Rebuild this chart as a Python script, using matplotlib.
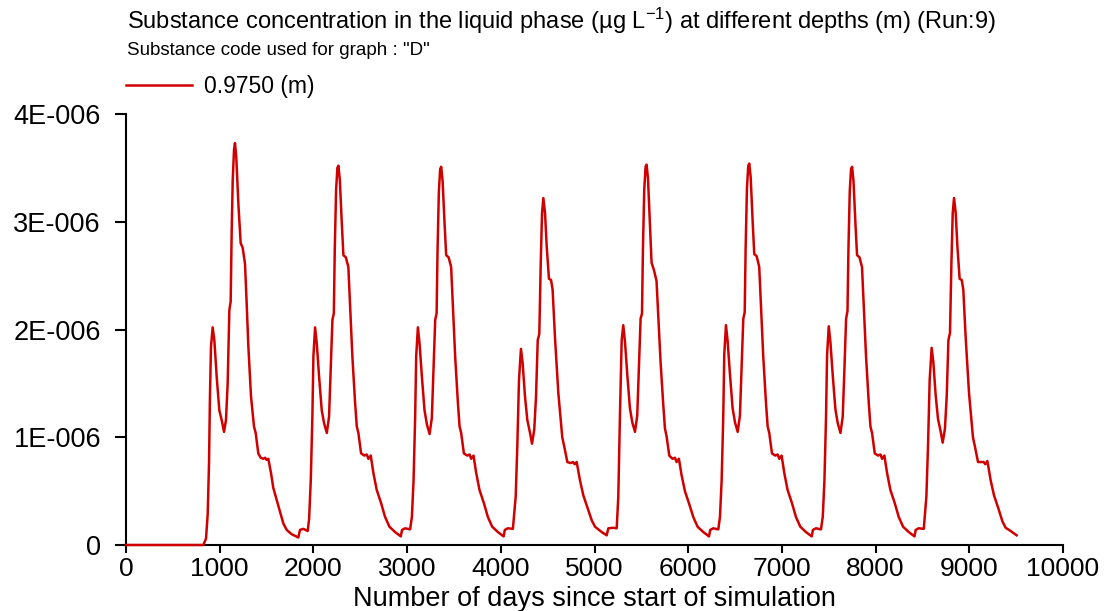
import numpy as np
import matplotlib
matplotlib.use('Agg')
from matplotlib import pyplot as plt
from matplotlib.ticker import FixedLocator, FixedFormatter

# concentration at 0.9750 m, values in units of 1E-006 ug/L
c1_days = [0, 825, 854, 872, 886, 896, 907, 925, 943, 968, 996, 1021, 1046, 1067, 1085,
           1103, 1117, 1128, 1139, 1153, 1163, 1177, 1199, 1224, 1245, 1270, 1288, 1306,
           1334, 1366, 1384, 1412, 1437, 1466, 1484, 1501, 1519, 1547, 1572, 1608, 1643,
           1679, 1715, 1768, 1839, 1857, 1892, 1939]
c1_vals = [0, 0, 0.06, 0.29, 0.76, 1.38, 1.84, 2.02, 1.90, 1.56, 1.25, 1.16, 1.05, 1.16, 1.50,
           2.18, 2.26, 2.92, 3.39, 3.67, 3.73, 3.60, 3.17, 2.80, 2.76, 2.61, 2.24, 1.84,
           1.38, 1.10, 1.04, 0.85, 0.81, 0.80, 0.81, 0.79, 0.80, 0.67, 0.53, 0.42, 0.31,
           0.20, 0.14, 0.10, 0.07, 0.14, 0.15, 0.13]

c2_days = [1954, 1972, 1989, 2000, 2018, 2036, 2061, 2089, 2114, 2143, 2167, 2186, 2203, 2218,
           2228, 2242, 2256, 2267, 2282, 2303, 2320, 2346, 2373, 2392, 2416, 2445, 2463, 2480,
           2509, 2544, 2570, 2587, 2612, 2640, 2676, 2722, 2765, 2811, 2872, 2933, 2946, 2978,
           3032]
c2_vals = [0.24, 0.60, 1.19, 1.75, 2.02, 1.87, 1.56, 1.25, 1.13, 1.04, 1.19, 1.65, 2.09, 2.15,
           2.74, 3.29, 3.50, 3.52, 3.39, 2.99, 2.69, 2.67, 2.58, 2.21, 1.75, 1.32, 1.10, 1.04,
           0.85, 0.83, 0.84, 0.80, 0.83, 0.67, 0.51, 0.39, 0.26, 0.17, 0.12, 0.08, 0.14, 0.155,
           0.145]

c3_days = [3051, 3069, 3086, 3097, 3115, 3133, 3158, 3186, 3211, 3240, 3264, 3283, 3300, 3315,
           3325, 3339, 3353, 3364, 3379, 3400, 3417, 3443, 3470, 3489, 3513, 3542, 3560, 3577,
           3606, 3641, 3667, 3684, 3709, 3737, 3773, 3819, 3862, 3908, 3969, 4030, 4043, 4075,
           4129]
c3_vals = [0.26, 0.60, 1.19, 1.75, 2.02, 1.87, 1.56, 1.25, 1.12, 1.03, 1.18, 1.65, 2.09, 2.15,
           2.74, 3.28, 3.49, 3.51, 3.38, 2.98, 2.69, 2.67, 2.58, 2.21, 1.75, 1.32, 1.10, 1.04,
           0.85, 0.83, 0.84, 0.80, 0.83, 0.67, 0.51, 0.39, 0.26, 0.17, 0.12, 0.08, 0.14, 0.155,
           0.15]

c4_days = [4159, 4176, 4194, 4215, 4233, 4258, 4283, 4312, 4333, 4357, 4376, 4394, 4411, 4426,
           4440, 4454, 4472, 4490, 4514, 4536, 4553, 4578, 4614, 4656, 4678, 4710, 4745, 4770,
           4788, 4810, 4845, 4881, 4927, 4970, 5005, 5077, 5130, 5148, 5201, 5237]
c4_vals = [0.45, 0.91, 1.53, 1.82, 1.69, 1.38, 1.16, 1.04, 0.94, 1.07, 1.38, 1.90, 1.96, 2.61,
           3.08, 3.22, 3.08, 2.77, 2.47, 2.46, 2.37, 1.93, 1.41, 1.00, 0.91, 0.77, 0.76, 0.77,
           0.75, 0.77, 0.60, 0.46, 0.34, 0.23, 0.17, 0.12, 0.09, 0.155, 0.16, 0.155]

c5_days = [5254, 5272, 5290, 5307, 5325, 5350, 5378, 5403, 5432, 5456, 5475, 5492, 5507, 5517,
           5531, 5545, 5556, 5571, 5592, 5609, 5635, 5662, 5681, 5705, 5734, 5752, 5769, 5798,
           5833, 5859, 5876, 5901, 5929, 5965, 6011, 6054, 6100, 6161, 6222, 6235, 6267, 6321]
c5_vals = [0.45, 1.22, 1.90, 2.04, 1.89, 1.58, 1.27, 1.14, 1.05, 1.20, 1.66, 2.10, 2.15, 2.75,
           3.30, 3.51, 3.53, 3.40, 2.98, 2.62, 2.55, 2.45, 2.12, 1.70, 1.30, 1.08, 1.01, 0.83,
           0.80, 0.81, 0.77, 0.80, 0.65, 0.50, 0.38, 0.26, 0.17, 0.12, 0.08, 0.14, 0.155, 0.145]

c6_days = [6339, 6357, 6374, 6385, 6403, 6421, 6446, 6474, 6499, 6528, 6552, 6571, 6588, 6603,
           6613, 6627, 6641, 6652, 6667, 6688, 6705, 6731, 6758, 6777, 6801, 6830, 6848, 6865,
           6894, 6929, 6955, 6972, 6997, 7025, 7061, 7107, 7150, 7196, 7257, 7318, 7331, 7363,
           7417]
c6_vals = [0.26, 0.60, 1.19, 1.77, 2.04, 1.89, 1.58, 1.27, 1.14, 1.05, 1.20, 1.66, 2.10, 2.16,
           2.76, 3.31, 3.52, 3.54, 3.41, 3.00, 2.70, 2.68, 2.58, 2.21, 1.75, 1.32, 1.10, 1.04,
           0.85, 0.83, 0.84, 0.80, 0.83, 0.67, 0.51, 0.39, 0.26, 0.17, 0.12, 0.08, 0.14, 0.155,
           0.145]

c7_days = [7436, 7454, 7471, 7482, 7500, 7518, 7543, 7571, 7596, 7625, 7649, 7668, 7685, 7700,
           7710, 7724, 7738, 7749, 7764, 7785, 7802, 7828, 7855, 7874, 7898, 7927, 7945, 7962,
           7991, 8026, 8052, 8069, 8094, 8122, 8158, 8204, 8247, 8293, 8354, 8415, 8428, 8460,
           8514]
c7_vals = [0.26, 0.60, 1.19, 1.76, 2.03, 1.88, 1.57, 1.26, 1.13, 1.04, 1.19, 1.65, 2.10, 2.17,
           2.74, 3.28, 3.49, 3.51, 3.38, 2.98, 2.69, 2.67, 2.58, 2.21, 1.75, 1.32, 1.10, 1.04,
           0.85, 0.83, 0.84, 0.80, 0.83, 0.67, 0.51, 0.39, 0.26, 0.17, 0.12, 0.08, 0.14, 0.155,
           0.15]

c8_days = [8542, 8559, 8577, 8598, 8616, 8641, 8666, 8695, 8716, 8740, 8759, 8777, 8794, 8809,
           8823, 8837, 8855, 8873, 8897, 8919, 8936, 8961, 8997, 9039, 9061, 9093, 9128, 9153,
           9171, 9193, 9228, 9264, 9310, 9353, 9388, 9441, 9505]
c8_vals = [0.45, 0.91, 1.53, 1.83, 1.70, 1.39, 1.17, 1.05, 0.95, 1.08, 1.38, 1.90, 1.97, 2.61,
           3.08, 3.22, 3.08, 2.77, 2.47, 2.46, 2.37, 1.93, 1.41, 1.00, 0.91, 0.77, 0.77, 0.77,
           0.75, 0.78, 0.60, 0.46, 0.34, 0.22, 0.16, 0.13, 0.09]

x_ticks = [0, 1000, 2000, 3000, 4000, 5000, 6000, 7000, 8000, 9000, 10000]
y_ticks = [0, 1e-6, 2e-6, 3e-6, 4e-6]
y_tick_labels = ['0', '1E-006', '2E-006', '3E-006', '4E-006']
series_label = '0.9750 (m)'

plt.rcParams['font.family'] = ['Liberation Sans', 'DejaVu Sans']
plt.rcParams['mathtext.fontset'] = 'custom'
plt.rcParams['mathtext.rm'] = 'Liberation Sans'
plt.rcParams['mathtext.it'] = 'Liberation Sans:italic'

days = np.concatenate([c1_days, c2_days, c3_days, c4_days, c5_days, c6_days, c7_days, c8_days])
conc = np.concatenate([c1_vals, c2_vals, c3_vals, c4_vals, c5_vals, c6_vals, c7_vals, c8_vals]) * 1e-6

fig = plt.figure(figsize=(11.09, 6.11), dpi=100)
ax = fig.add_axes([126 / 1109, 1 - 545 / 611, 937 / 1109, 431 / 611])

line, = ax.plot(days, conc, color='#d00000', lw=1.8, clip_on=False, zorder=5,
                solid_joinstyle='round', label=series_label)

ax.set_xlim(0, 10000)
ax.set_ylim(0, 4e-6)
ax.xaxis.set_major_locator(FixedLocator(x_ticks))
ax.yaxis.set_major_locator(FixedLocator(y_ticks))
ax.yaxis.set_major_formatter(FixedFormatter(y_tick_labels))

for s in ['top', 'right']:
    ax.spines[s].set_visible(False)
for s in ['left', 'bottom']:
    ax.spines[s].set_linewidth(1.5)
    ax.spines[s].set_color('black')

ax.tick_params(axis='y', direction='out', length=8, width=1.5, pad=10, labelsize=19.5)
ax.tick_params(axis='x', direction='out', length=6, width=1.5, pad=3, labelsize=19)
ax.set_xlabel('Number of days since start of simulation', fontsize=19.5, labelpad=3)

fig.text(127 / 1109, 1 - 28.5 / 611,
         'Substance concentration in the liquid phase (\u00b5g L$^{-1}$) at different depths (m) (Run:9)',
         fontsize=17, ha='left', va='baseline')
fig.text(127 / 1109, 1 - 55 / 611, 'Substance code used for graph : "D"',
         fontsize=13.5, ha='left', va='baseline')

fig.legend(handles=[line], loc='center left', bbox_to_anchor=(126 / 1109, 1 - 87 / 611),
           bbox_transform=fig.transFigure, frameon=False, fontsize=16.5, borderpad=0,
           borderaxespad=0, handlelength=2.9, handletextpad=0.5)

fig.savefig('out.png', dpi=100)
